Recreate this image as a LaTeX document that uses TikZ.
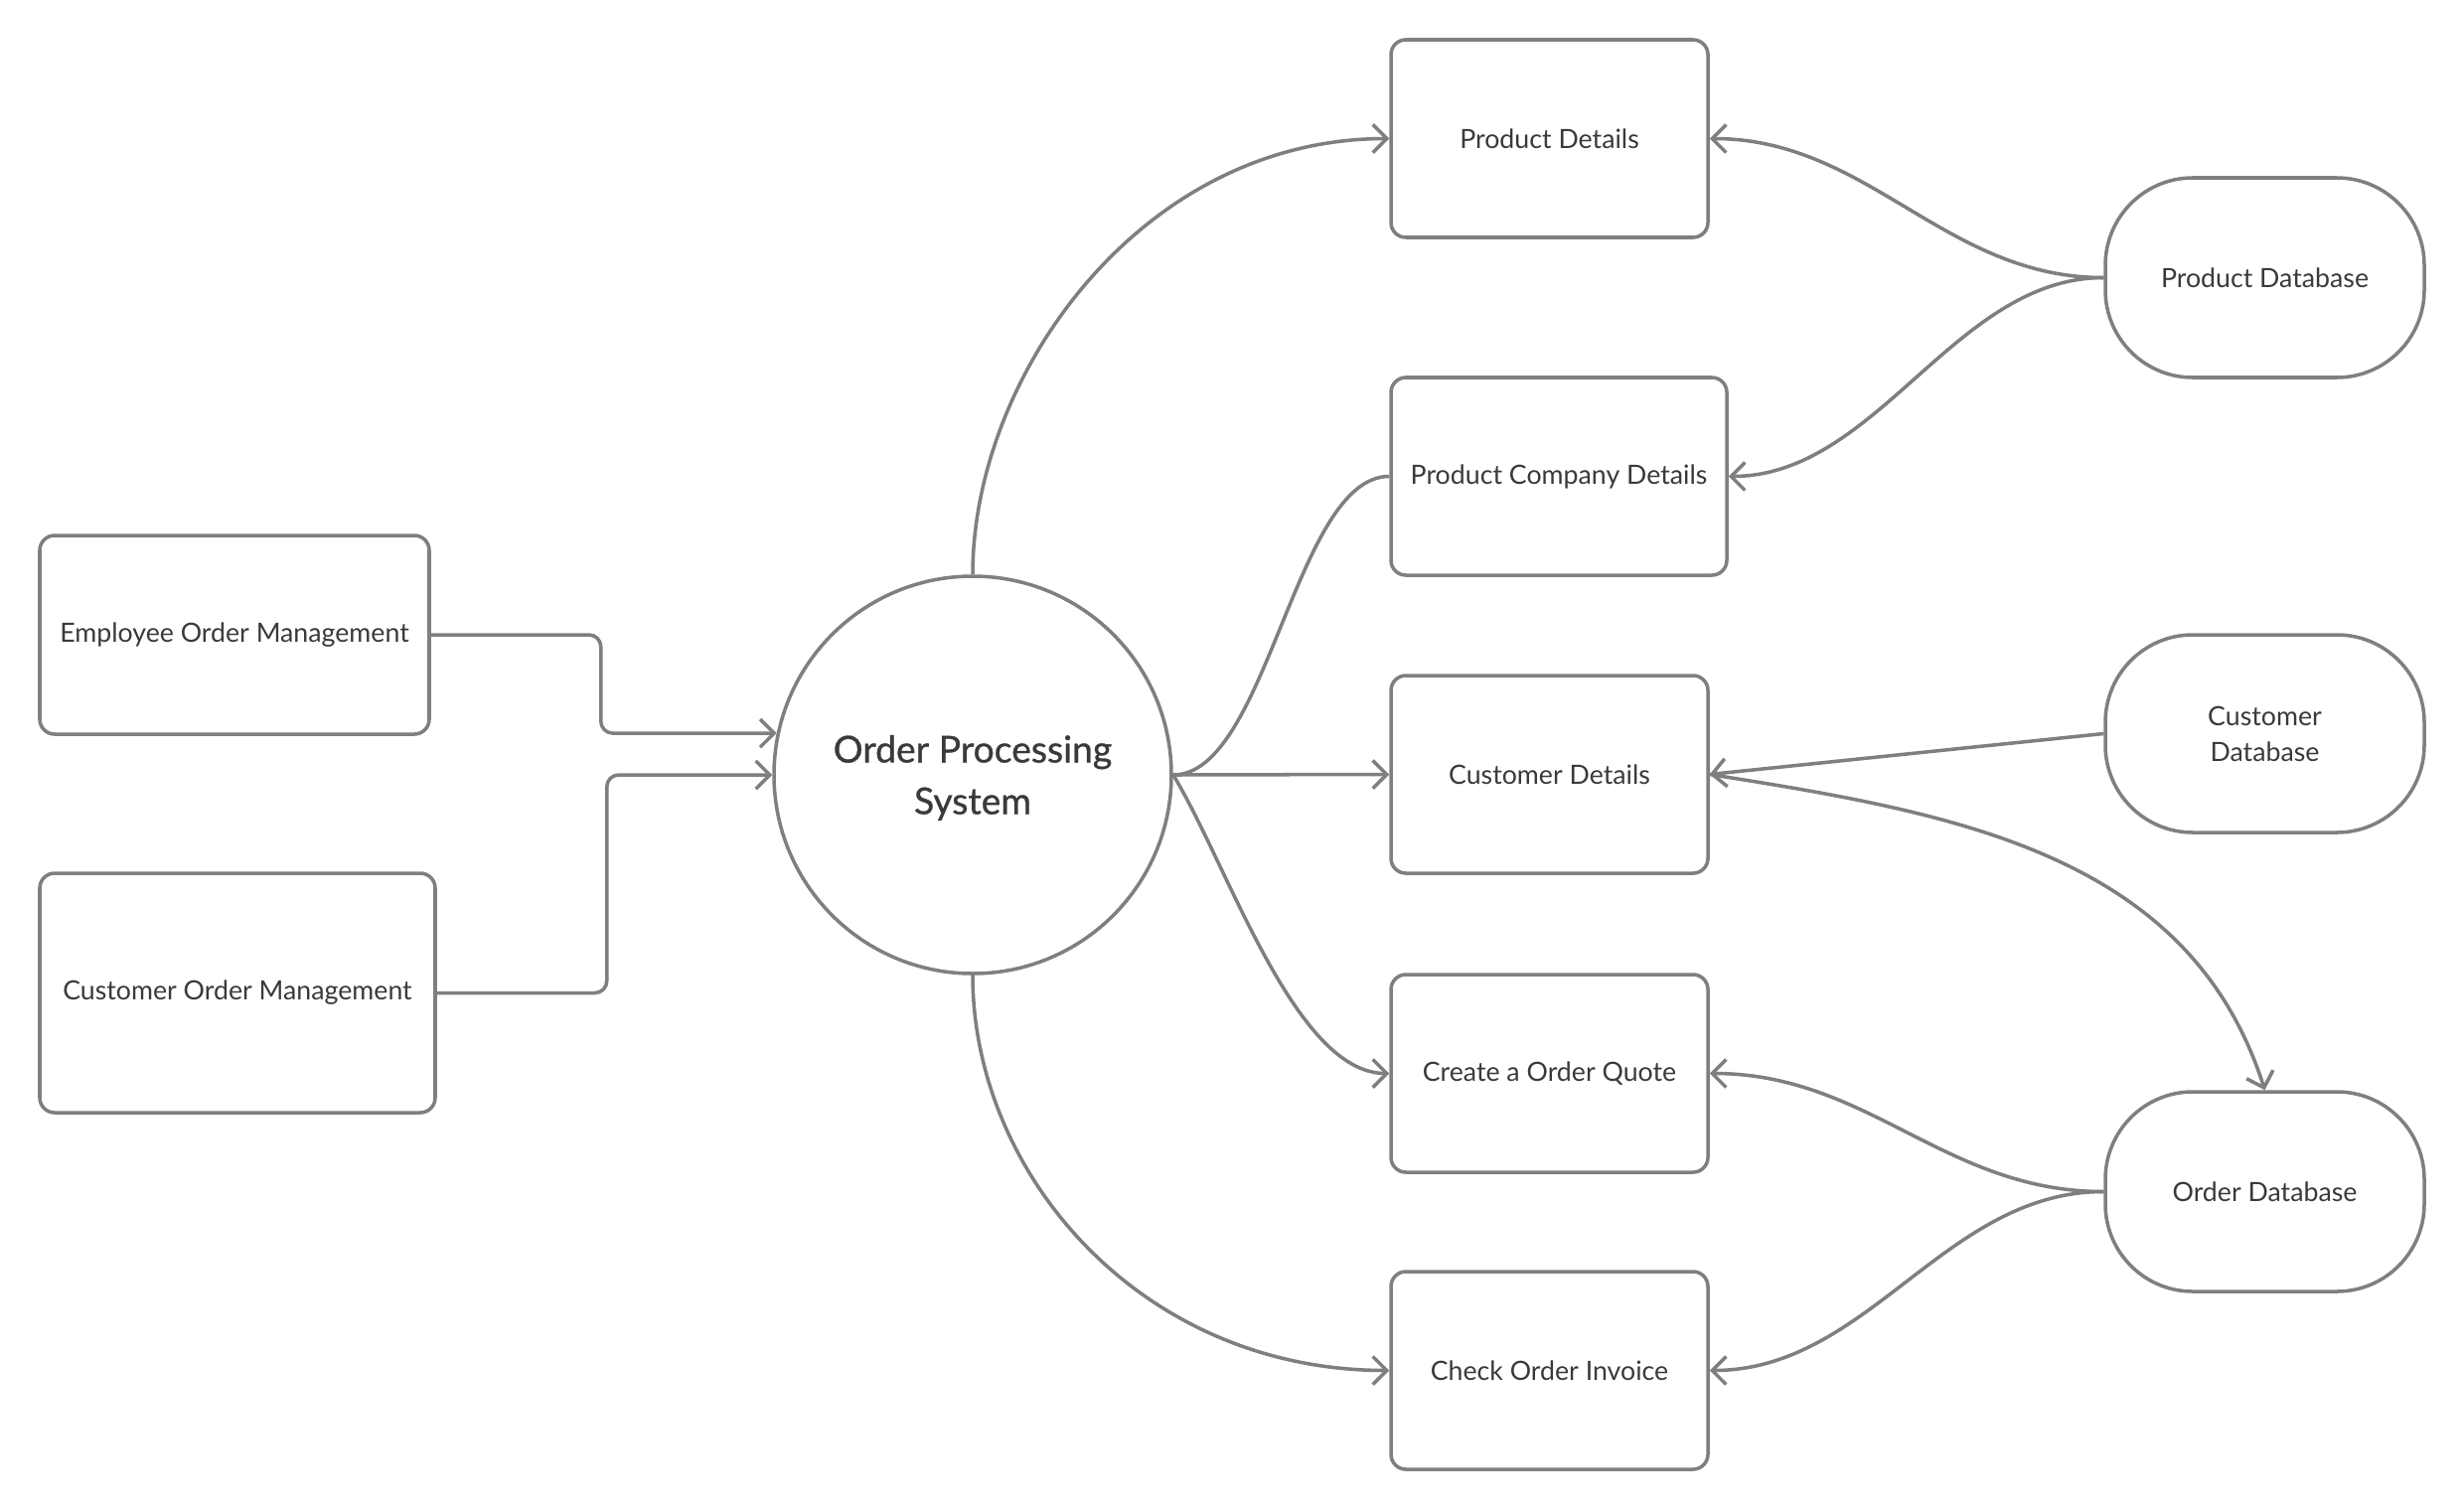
\documentclass[tikz,border=0pt]{standalone}
\usepackage{fontspec}
\setmainfont{Lato}
\newfontfamily\titlefont[FakeBold=0.8]{Lato}
\usetikzlibrary{arrows.meta}
\newlength{\pxu}\setlength{\pxu}{0.025cm}
\definecolor{ln}{HTML}{7F7F7F}
\definecolor{tx}{HTML}{3A3A3A}
\begin{document}
\begin{tikzpicture}[x=0.025cm, y=-0.025cm,
  box/.style={draw=ln, line width=2.5pt, rounded corners=0.375cm, text=tx,
    font=\fontsize{19}{25.5}\selectfont, align=center, inner sep=0pt},
  db/.style={box, rounded corners=2.2cm},
  conn/.style={draw=ln, line width=2.5pt},
  arr/.style={conn, -{Straight Barb[length=10pt,width=20pt]}}]
\useasboundingbox (0,0) rectangle (2480,1520);
\fill[white] (0,0) rectangle (2480,1520);

% process boxes
\node[box, minimum width=319*\pxu, minimum height=199*\pxu] (pd)  at (1559.5,139.5) {Product Details};
\node[box, minimum width=338*\pxu, minimum height=199*\pxu] (pcd) at (1569,479.5) {Product Company Details};
\node[box, minimum width=319*\pxu, minimum height=199*\pxu] (cd)  at (1559.5,779.5) {Customer Details};
\node[box, minimum width=319*\pxu, minimum height=199*\pxu] (coq) at (1559.5,1080.5) {Create a Order Quote};
\node[box, minimum width=319*\pxu, minimum height=199*\pxu] (coi) at (1559.5,1379.5) {Check Order Invoice};

% databases
\node[db, minimum width=321*\pxu, minimum height=201*\pxu] (pdb) at (2279.5,279.5) {Product Database};
\node[db, minimum width=321*\pxu, minimum height=199*\pxu] (cdb) at (2279.5,738.5) {Customer\\Database};
\node[db, minimum width=321*\pxu, minimum height=201*\pxu] (odb) at (2279.5,1199.5) {Order Database};

% external entities
\node[box, minimum width=392*\pxu, minimum height=200*\pxu] (eom) at (236,639) {Employee Order Management};
\node[box, minimum width=398*\pxu, minimum height=241*\pxu] (com) at (239,999.5) {Customer Order Management};

% central process
\node[draw=ln, line width=2.5pt, circle, minimum size=400*\pxu, inner sep=0pt,
  label={[text=tx, font=\titlefont\fontsize{26.5}{37}\selectfont, align=center, yshift=-3*\pxu]center:{Order Processing\\System}}]
  (ops) at (979,780) {};

% connectors
\draw[arr, rounded corners=0.3cm] (eom.east) -- ++(171,0) |- (ops.168);
\draw[arr, rounded corners=0.3cm] (com.east) -- ++(171,0) |- (ops.west);

\draw[arr] (ops.north) .. controls +(0,-200) and +(-250,0) .. (pd.west);
\draw[conn] (ops.east) .. controls +(95,0) and +(-95,0) .. (pcd.west);
\draw[arr] (ops.east) -- (cd.west);
\draw[arr] (ops.east) .. controls +(55,90) and +(-95,0) .. (coq.west);
\draw[arr] (ops.south) .. controls +(0,200) and +(-250,0) .. (coi.west);

\draw[arr] (pdb.west) .. controls +(-160,0) and +(160,0) .. (pd.east);
\draw[arr] (pdb.west) .. controls +(-150,0) and +(150,0) .. (pcd.east);
\draw[arr] (cdb.west) -- (cd.east);
\draw[arr] (cd.east) .. controls +(247,39) and +(-76,-238) .. (odb.north);
\draw[arr] (odb.west) .. controls +(-160,0) and +(160,0) .. (coq.east);
\draw[arr] (odb.west) .. controls +(-160,0) and +(160,0) .. (coi.east);
\end{tikzpicture}
\end{document}
